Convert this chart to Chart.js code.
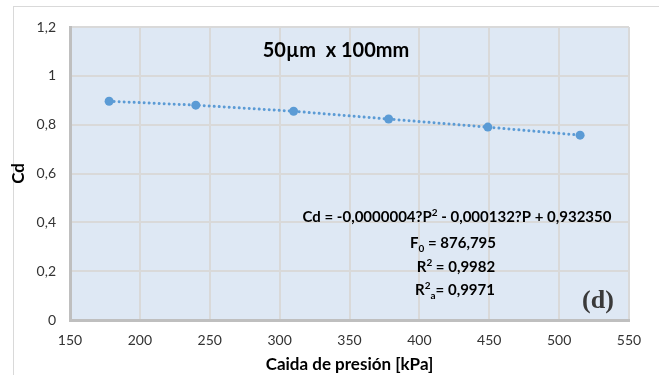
<!DOCTYPE html>
<html>
<head>
<meta charset="utf-8">
<script src="https://cdn.jsdelivr.net/npm/chart.js@4"></script>
<style>
  html, body { margin: 0; padding: 0; background: #fff; }
  #wrap { position: relative; width: 659px; height: 375px; overflow: hidden; }
  #frame { position: absolute; left: 13px; top: 6px; width: 700px; height: 400px;
           border-left: 1px solid #d9d9d9; border-top: 1px solid #d9d9d9; }
  canvas { position: absolute; left: 0; top: 0; }
</style>
</head>
<body>
<div id="wrap">
  <div id="frame"></div>
  <canvas id="c" width="659" height="375"></canvas>
</div>
<script>
/* data */
const pressure = [178, 240, 310, 378, 449, 515];
const cdValues = [0.896, 0.880, 0.855, 0.823, 0.790, 0.757];
const xTicks = [150, 200, 250, 300, 350, 400, 450, 500, 550];
const yTicks = [0, 0.2, 0.4, 0.6, 0.8, 1, 1.2];

const SANS = "Lato, 'Open Sans', sans-serif";
const BLUE = '#5b9bd5';

const comma = v => String(Math.round(v * 10) / 10).replace('.', ',');

// draw text made of runs: [text, 'n' | 'sup' | 'sub'], centred on cx
function drawRuns(ctx, runs, cx, y, size) {
  const font = s => `bold ${s}px ${SANS}`;
  const small = Math.round(size * 0.68);
  let total = 0;
  runs.forEach(([t, k]) => { ctx.font = font(k === 'n' ? size : small); total += ctx.measureText(t).width; });
  let x = cx - total / 2;
  ctx.textAlign = 'left';
  ctx.textBaseline = 'alphabetic';
  runs.forEach(([t, k]) => {
    ctx.font = font(k === 'n' ? size : small);
    const dy = k === 'sup' ? -size * 0.4 : k === 'sub' ? size * 0.25 : 0;
    ctx.fillText(t, x, y + dy);
    x += ctx.measureText(t).width;
  });
}

const decorations = {
  id: 'decorations',
  beforeDraw(chart) {
    const { ctx, chartArea: a } = chart;
    ctx.save();
    ctx.fillStyle = '#dee8f4';
    ctx.fillRect(a.left, a.top, a.right - a.left, a.bottom - a.top);
    ctx.restore();
  },
  afterDraw(chart) {
    const { ctx } = chart;
    ctx.save();
    ctx.fillStyle = '#000';
    ctx.font = `bold 20px ${SANS}`;
    ctx.textAlign = 'center';
    ctx.textBaseline = 'middle';
    ctx.fillText('50µm  x 100mm', 336, 51);

    drawRuns(ctx, [['Cd = -0,0000004?P', 'n'], ['2', 'sup'], [' - 0,000132?P + 0,932350', 'n']], 457, 222, 15);
    drawRuns(ctx, [['F', 'n'], ['0', 'sub'], [' = 876,795', 'n']], 453, 248, 15);
    drawRuns(ctx, [['R', 'n'], ['2', 'sup'], [' = 0,9982', 'n']], 456, 272, 15);
    drawRuns(ctx, [['R', 'n'], ['2', 'sup'], ['a', 'sub'], ['= 0,9971', 'n']], 455, 295, 15);

    ctx.font = "bold 26px 'Liberation Serif', 'DejaVu Serif', serif";
    ctx.textAlign = 'center';
    ctx.textBaseline = 'alphabetic';
    ctx.fillStyle = '#3a3a3a';
    ctx.fillText('(d)', 598, 308);
    ctx.restore();
  }
};

new Chart(document.getElementById('c'), {
  type: 'scatter',
  data: {
    datasets: [{
      data: pressure.map((p, i) => ({ x: p, y: cdValues[i] })),
      showLine: true,
      borderColor: BLUE,
      backgroundColor: BLUE,
      borderWidth: 3,
      borderDash: [0.01, 5],
      borderCapStyle: 'round',
      pointRadius: 4.5,
      pointBorderWidth: 0,
      tension: 0,
    }]
  },
  options: {
    responsive: false,
    animation: false,
    devicePixelRatio: 1,
    layout: { padding: { left: 0, top: 27, right: 30, bottom: 0 } },
    scales: {
      x: {
        type: 'linear', min: 150, max: 550,
        afterBuildTicks: s => { s.ticks = xTicks.map(v => ({ value: v })); },
        afterFit: s => { s.height = 55; },
        grid: { color: '#d9d9d9', lineWidth: 2, drawTicks: false },
        border: { color: '#bfbfbf', width: 3 },
        ticks: { color: '#333', padding: 12, font: { family: SANS, size: 14 }, maxRotation: 0 },
        title: { display: true, text: 'Caida de presión [kPa]', color: '#000',
                 font: { family: SANS, size: 17, weight: 'bold' }, padding: { top: 7, bottom: 0 } }
      },
      y: {
        min: 0, max: 1.2,
        afterBuildTicks: s => { s.ticks = yTicks.map(v => ({ value: v })); },
        afterFit: s => { s.width = 70; },
        grid: { color: '#d9d9d9', lineWidth: 2, drawTicks: false },
        border: { color: '#bfbfbf', width: 3 },
        ticks: { color: '#333', padding: 14, font: { family: SANS, size: 14 }, callback: comma },
        title: { display: true, text: 'Cd', color: '#000',
                 font: { family: SANS, size: 17, weight: 'bold' }, padding: { top: 8, bottom: 0 } }
      }
    },
    plugins: { legend: { display: false }, tooltip: { enabled: false } }
  },
  plugins: [decorations]
});
</script>
</body>
</html>
